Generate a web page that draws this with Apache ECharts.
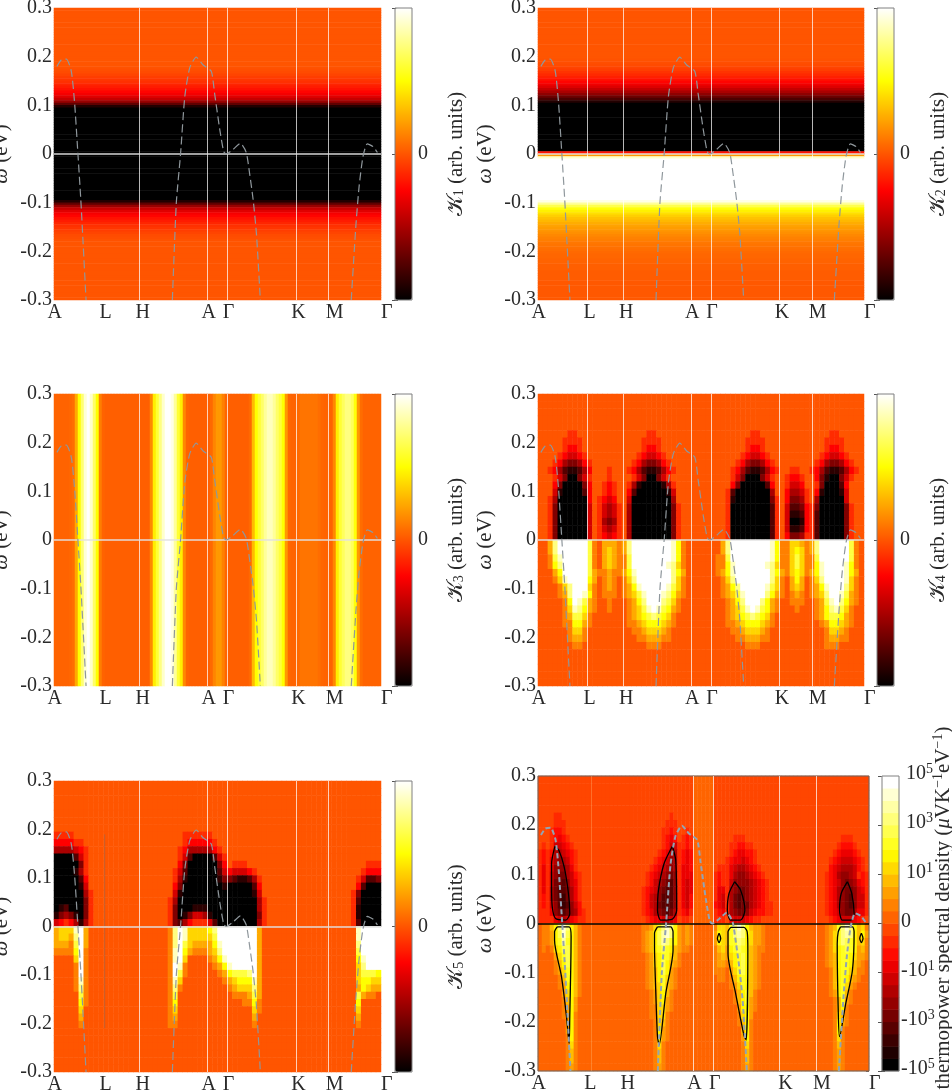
<!DOCTYPE html>
<html><head><meta charset="utf-8">
<style>html,body{margin:0;padding:0;background:#fff;overflow:hidden}#c{width:952px;height:1090px}</style>
<script src="https://cdn.jsdelivr.net/npm/echarts@6/dist/echarts.min.js"></script>
</head><body><div id="c"></div>
<script>
const yTicks=[-0.3,-0.2,-0.1,0,0.1,0.2,0.3];
const xLabelPos=[0.002,0.158,0.271,0.473,0.534,0.748,0.858,1];
const xLabelText=['A','L','H','A','Γ','K','M','Γ'];
const bandA=[[.009,.18],[.022,.193],[.038,.195],[.053,.17],[.063,.105],[.073,.002],[.082,-.094],[.089,-.183],[.098,-.3]];
const bandB=[[.362,-.3],[.374,-.101],[.387,0],[.400,.118],[.415,.177],[.435,.199],[.456,.183],[.481,.170],[.491,.125],[.507,.05],[.519,.005],[.527,0],[.547,.009],[.570,.022],[.588,.003],[.598,-.039],[.609,-.094],[.619,-.163],[.631,-.3]];
const bandC=[[.909,-.3],[.923,-.149],[.933,-.067],[.945,-.005],[.958,.021],[.976,.015],[.989,.003]];
const k1Rows=[0,0,0,0,0,0,0,0,0,0,0,0,0,0,0,0,0,0,0,0,0,0,0,0,-.01,-.02,-.03,-.05,-.07,-.09,-.11,-.14,-.17,-.2,-.24,-.28,-.34,-.42,-.55,-.72,-.9,
-1,-1,-1,-1,-1,-1,-1,-1,-1,-1,-1,-1,-1,-1,-1,-1,-1,-1,-1,-1,-1,-1,-1,-1,-1,-1,-1,-1,-1,-1,-1,-1,-1,-1,-1,-1,-1,-1,
-.9,-.72,-.55,-.42,-.34,-.28,-.24,-.2,-.17,-.14,-.11,-.09,-.07,-.05,-.03,-.02,-.01,0,0,0,0,0,0,0,0,0,0,0,0,0,0,0,0,0,0,0,0,0,0,0,0];
const k2Rows=[0,0,0,0,0,0,0,0,0,0,0,0,0,0,0,0,0,0,0,0,0,-.01,-.02,-.03,-.05,-.07,-.1,-.13,-.16,-.2,-.24,-.29,-.35,-.42,-.5,-.58,-.68,-.78,-.9,
-1,-1,-1,-1,-1,-1,-1,-1,-1,-1,-1,-1,-1,-1,-1,-1,-1,-1,-1,-1,-.2,.2,.9,
1,1,1,1,1,1,1,1,1,1,1,1,1,1,1,1,1,.95,.8,.65,.52,.46,.41,.36,.32,.29,.26,.23,.21,.19,.17,.15,.13,.12,.1,.09,.08,.07,.06,
.05,.05,.04,.04,.03,.03,.03,.02,.02,.02,.02,.01,.01,.01,.01,.01,.01,.01,.01];
const k3Cols=[.04,.04,.04,.04,.04,.05,.07,.25,.5,.72,.92,1,.9,.7,.5,.12,.04,.03,.03,.03,.03,.03,.03,.03,.03,.03,.03,.03,.03,.03,.03,.03,.15,.45,.6,.75,.9,1,1,.95,.8,.6,.45,.15,.04,.03,.03,.03,.03,.03,.03,.03,.06,.14,.2,.2,.13,.05,.03,.03,.03,.03,.03,.03,.03,.06,.3,.5,.6,.7,.8,.87,.87,.8,.7,.62,.5,.2,.05,.04,.04,.06,.09,.09,.09,.09,.09,.09,.07,.05,.04,.04,.04,.15,.45,.6,.68,.75,.75,.68,.52,.2,.07,.04,.04,.04,.04,.04,.04];
const k4Rows=[
"8888888888 8888888888 8888888888 8888888888 8888888888 8888888888 888888",
"8888888888 8888888888 8888888888 8888888888 8888888888 8888888888 888888",
"8888888888 8888888888 8888888888 8888888888 8888888888 8888888888 888888",
"8888888888 8888888888 8888888888 8888888888 8888888888 8888888888 888888",
"8888888888 8888888888 8888888888 8888888888 8888888888 8888888888 888888",
"8888887788 8888888888 8877888888 8888888888 8887788888 8888888887 788888",
"8888877778 8888888888 8777788888 8888888888 8877778888 8888888877 778888",
"8888876678 8888888888 8766788888 8888888888 8876678888 8888888876 678888",
"8888765567 8888888888 7655678888 8888888888 8765567888 8888888765 567888",
"8887643346 7888888887 6433467888 8888888888 7643346788 8888887643 346788",
"8876421124 6888788876 4211246788 8888888887 6421124678 8778876421 124678",
"8887530035 7888788887 5300357888 8888888887 5300035788 7667886310 035788",
"8886300003 6887678874 1000014788 8888888886 3000002688 7556887300 026888",
"8885100002 6887678862 0000001588 8888888872 0000000488 6445786100 015888",
"8874000000 6876568850 0000000488 8888888871 0000000378 6334784000 005888",
"8873000000 5875457840 0000000378 8888888870 0000000278 5223673000 003788",
"8873000000 5875457840 0000000378 8888888870 0000000278 5112672000 003788",
"8873000000 5874347840 0000000378 8888888870 0000000278 5001672000 003788",
"8873000000 5875457840 0000000378 8888888870 0000000278 5112672000 003788",
"8873000000 5876567840 0000000378 8888888870 0000000278 6334772000 003788",
"88aegggggg d98aaa9aeg gggggggfc9 8888888aeg gggggggfc9 9bba9aeggg gggd98",
"88aegggggg d98aba9aeg gggggggfc9 8888888aeg gggggggfc9 9bcb9aeggg gggd98",
"889dfggggg d98aba99dg gggggggfc9 88888899dg gggggggfc9 9bdb99dggg gggd98",
"889ceggggg d98aba99dg ggggggfeb9 88888899cf ggggggfeb9 9bdb99cfgg ggfc98",
"888acggggg da99a99acf gggggggeca 8888889acf gggggggeca 9bcb9acfgg ggfca8",
"8889bfgggg ca89a989be gggggggeb9 88888889be gggggggeb9 8aca89begg ggfb98",
"88889beggg b989a989ac fgggggfdb9 88888889ac egggggfdb9 8aba89acfg ggeb98",
"88889aeggf c9899989ab dfgggfeca9 88888889ab dfggggeca9 89a989abeg gfda98",
"888889cgfd a98898889a cegggedb98 888888889a cegggeca98 8999889adf geca98",
"888889bfec a98898889a bdfgfdca98 888888889a bdfgfdca98 8898889ace fdb988",
"888889addb 988888889a bcdedcb988 888888889a bcdedcb988 8888889acd dca988",
"8888899cca 9888888899 abcccba988 8888888899 abcccba988 88888889ac cba988",
"8888889bb9 8888888889 9abbba9888 8888888889 9abbba9888 888888889b ba9888",
"8888889aa9 8888888888 99aaa99888 8888888888 99aaa99888 888888889a a99888",
"8888888998 8888888888 8899988888 8888888888 8899988888 8888888899 988888",
"8888888888 8888888888 8888888888 8888888888 8888888888 8888888888 888888",
"8888888888 8888888888 8888888888 8888888888 8888888888 8888888888 888888",
"8888888888 8888888888 8888888888 8888888888 8888888888 8888888888 888888",
"8888888888 8888888888 8888888888 8888888888 8888888888 8888888888 888888",
"8888888888 8888888888 8888888888 8888888888 8888888888 8888888888 888888"];
const k5Rows=[
"8888888888 8888888888 8888888888 8888888888 8888888888 8888888888 888888",
"8888888888 8888888888 8888888888 8888888888 8888888888 8888888888 888888",
"8888888888 8888888888 8888888888 8888888888 8888888888 8888888888 888888",
"8888888888 8888888888 8888888888 8888888888 8888888888 8888888888 888888",
"8888888888 8888888888 8888888888 8888888888 8888888888 8888888888 888888",
"8888888888 8888888888 8888888888 8888888888 8888888888 8888888888 888888",
"8888888888 8888888888 8888888888 8888888888 8888888888 8888888888 888888",
"7777888888 8888888888 8888887777 7788888888 8888888888 8888888888 888888",
"6666778888 8888888888 8888887666 6678888888 8888888888 8888888888 888888",
"4444567888 8888888888 8888876444 4467888888 8888888888 8888888888 888888",
"0000257888 8888888888 8888875200 0025788888 8888888888 8888888888 888888",
"0000037888 8888888888 8888863000 0003687778 8888888888 8888888888 888777",
"0000147888 8888888888 8888752000 0002565556 7888888888 8888888888 887666",
"0000026888 8888888888 8888741000 0001332112 4788888888 8888888888 875223",
"0000015888 8888888888 8888630000 0000100000 2688888888 8888888888 862000",
"0000004788 8888888888 8888510000 0000000000 1588888888 8888888888 730000",
"0000003788 8888888888 8887400000 0000000000 0478888888 8888888888 720000",
"0120003788 8888888888 8887300011 1000000000 0478888888 8888888888 710000",
"1343103788 8888888888 8887301355 4100000000 0378888888 8888888888 710000",
"5676414788 8888888888 8887324677 7520000000 0478888888 8888888888 720000",
"abbbfga888 8888888888 8889egfbbb bceggggggg ga88888888 8888888888 8fgggg",
"abbaega888 8888888888 8889egfbbb bbdggggggg ga88888888 8888888888 8fgggg",
"aaa9dga888 8888888888 8889egdbaa aacfgggggg ga88888888 8888888888 8egggg",
"9999cg9888 8888888888 8889fgca99 9abegggggg ga88888888 8888888888 8dgggg",
"8888bg9888 8888888888 8889fgb888 89acfggggg ga88888888 8888888888 8cfggg",
"88889g9888 8888888888 8889gf9888 889acfgggg ga88888888 8888888888 8beggg",
"88889g9888 8888888888 8889gd9888 8889acddde ga88888888 8888888888 8bdddc",
"88889f9888 8888888888 8889fb8888 88889abccc fa88888888 8888888888 8bccbb",
"88889e9888 8888888888 8889e98888 888889abbb ea88888888 8888888888 8acbaa",
"88888d9888 8888888888 8889d88888 888888999a da88888888 8888888888 8da998",
"88888c9888 8888888888 8889c88888 8888888899 c988888888 8888888888 8c8888",
"88888b8888 8888888888 8889b88888 8888888888 b988888888 8888888888 8b8888",
"88888a8888 8888888888 8889a88888 8888888888 a888888888 8888888888 8a8888",
"8888898888 8888888888 8889988888 8888888888 9888888888 8888888888 898888",
"8888888888 8888888888 8888888888 8888888888 8888888888 8888888888 888888",
"8888888888 8888888888 8888888888 8888888888 8888888888 8888888888 888888",
"8888888888 8888888888 8888888888 8888888888 8888888888 8888888888 888888",
"8888888888 8888888888 8888888888 8888888888 8888888888 8888888888 888888",
"8888888888 8888888888 8888888888 8888888888 8888888888 8888888888 888888",
"8888888888 8888888888 8888888888 8888888888 8888888888 8888888888 888888"];
const k6Rows=[
"bbbbbbbbbb bbbbbbbbbb bbbbbbbbbb bbbbbbbbbc ccccbbbbbb bbbbbbbbbb bbbbbbbbbb bbbbbbbbbb bbb",
"bbbbbbbbbb bbbbbbbbbb bbbbbbbbbb bbbbbbbbbc ccccbbbbbb bbbbbbbbbb bbbbbbbbbb bbbbbbbbbb bbb",
"bbbbbbbbbb bbbbbbbbbb bbbbbbbbbb bbbbbbbbbc ccccbbbbbb bbbbbbbbbb bbbbbbbbbb bbbbbbbbbb bbb",
"bbbbbbbbbb bbbbbbbbbb bbbbbbbbbb bbbbbbbbbc ccccbbbbbb bbbbbbbbbb bbbbbbbbbb bbbbbbbbbb bbb",
"bbbbbbbbbb bbbbbbbbbb bbbbbbbbbb bbbbbbbbbc ccccbbbbbb bbbbbbbbbb bbbbbbbbbb bbbbbbbbbb bbb",
"bbbbaabbbb bbbbbbbbbb bbbbbbbbbb bbbabbbbbc ccccbbbbbb bbbbbbbbbb bbbbbbbbbb bbbbbbbbbb bbb",
"bbbbaaabbb bbbbbbbbbb bbbbbbbbbb bbaaabbbbc ccccbbbbbb bbbbbbbbbb bbbbbbbbbb bbbbbbbbbb bbb",
"bbba99abbb bbbbbbbbbb bbbbbbbbbb baa9abbabc ccccbbbbbb bbbbbbbbbb bbbbbbbbbb bbbbbbbbbb bbb",
"bbba989abb bbbbbbbbbb bbbbbbbbbb ba989ba9ac ccccbbbbba aabbbbbbbb bbbbbbbbbb bbbbbbaaab bbb",
"baba7789ab bbbbbbbbbb bbbbbbbbbb ba977aa9ac ccccbbbbaa 99aabbbbbb bbbbbbbbbb bbbbba999a bbb",
"a9a966789a bbbbbbbbbb bbbbbbbbbb a9866a989c ccccbbbba9 8899abbbbb bbbbbbbbbb bbbba98889 abb",
"a9a865679a bbbbbbbbbb bbbbbbbbba 98756a989c ccccbbba98 8789abbbbb bbbbbbbbbb bbba987778 9ab",
"a8a855568a bbbbbbbbbb bbbbbbbba9 87656a889c ccccbaaa87 66789abbbb bbbbbbbbbb bbb9876667 9ab",
"a8a7544679 abbbbbbbbb bbbbbbba98 76545a888c cccca9aa86 556789abbb bbbbbbbbbb bba9865567 a9a",
"a8a7443578 abbbbbbbbb bbbbbbba97 65435a878c cccca9aa75 5556789abb bbbbbbbbbb bba9875456 89a",
"a8a6433468 abbbbbbbbb bbbbbba987 54335a878c cccca88a65 4456789abb bbbbbbbbbb bba9865445 78a",
"a9a6432468 abbbbbbbbb bbbbbba976 53335a879c cccca87a64 3456789abb bbbbbbbbbb bba9865435 77a",
"a9a7532357 9bbbbbbbbb bbbbbba976 43335a879c cccc987a64 3446789aab bbbbbbbbbb bba9865435 77a",
"aaa8543456 9abbbbbbbb bbbbbba986 54346a98ac cccca98a65 4457899aab bbbbbbbbbb bba9875446 88a",
"aaaa876789 aabbbbbbbb bbbbbbba98 87678baabc ccccaaab87 7789aabbbb bbbbbbbbbb bbba987778 9ab",
"cddfhkmkhf dccccccccc ccccccddeg ikmkhededc ccccdggfik mkhfeedccc cccccccccc ccdefikmkh fgd",
"cddehjmjhf dccccccccc ccccccdefh jlmkhededc ccccehgfik lkhgeedccc cccccccccc ccdegiklkh fhe",
"cddehilihf dccccccccc ccccccdefh jlkihededc ccccehgfii kjhgeedccc cccccccccc ccdegikjih fgd",
"cdcdghjjhf dccccccccc ccccccdefh ijihfeddcc ccccdfgehi jihfeddccc cccccccccc ccdeghijih efd",
"ccccegijhf dccccccccc cccccccdeg hiigfdcccc ccccdefegh ijhfedcccc cccccccccc ccdefhiihg eed",
"ccccdfhjhf dccccccccc cccccccdeg hjhfedcccc ccccdeedfh ijhfedcccc cccccccccc ccdefhiihf edc",
"ccccdegihf dccccccccc cccccccdef hjhedccccc ccccdddceg ijhfedcccc cccccccccc cccdfhiigf ddc",
"cccccdfihf dccccccccc cccccccdef higedccccc cccccddcdf hihfedcccc cccccccccc cccdfhihfe dcc",
"cccccdehhf dccccccccc cccccccdef gifedccccc ccccccccde gihfedcccc cccccccccc cccdfhiged ccc",
"cccccceghf dccccccccc ccccccccde ghfdcccccc cccccccccd fhifdccccc cccccccccc cccdehifdc ccc",
"ccccccdfhe cccccccccc ccccccccde ghedcccccc cccccccccd fhiedccccc cccccccccc ccccdfiedc ccc",
"ccccccdehe cccccccccc ccccccccdd ggedcccccc cccccccccc ehhedccccc cccccccccc ccccdfhdcc ccc",
"ccccccdehd cccccccccc ccccccccdd ggdccccccc cccccccccc dghecccccc cccccccccc ccccdgfdcc ccc",
"cccccccehd cccccccccc cccccccccd gfdccccccc cccccccccc dfhdcccccc cccccccccc ccccdhedcc ccc",
"cccccccehd cccccccccc cccccccccd hedccccccc cccccccccc cfhdcccccc cccccccccc ccccdhdccc ccc",
"cccccccdhd cccccccccc cccccccccd hedccccccc cccccccccc cehdcccccc cccccccccc ccccdgdccc ccc",
"cccccccdgd cccccccccc cccccccccd gdcccccccc cccccccccc cdgdcccccc cccccccccc ccccdfdccc ccc",
"cccccccdfd cccccccccc cccccccccd fdcccccccc cccccccccc cdfdcccccc cccccccccc ccccdedccc ccc",
"cccccccdfd cccccccccc cccccccccd fdcccccccc cccccccccc cdfdcccccc cccccccccc ccccdedccc ccc",
"cccccccded cccccccccc cccccccccd edcccccccc cccccccccc cdedcccccc cccccccccc ccccdedccc ccc"];
const k6Palette=['#000000','#1e0000','#3b0000','#590000','#760000','#940000','#b10000','#cf0000','#ec0000','#ff0b00','#ff2900','#ff4600','#ff6400','#ff8100','#ff9f00','#ffbc00','#ffda00','#fff700','#ffff22','#ffff4e','#ffff7a','#ffffa6','#ffffd3','#ffffff'];
const hotStops=['#000000','#550000','#aa0000','#ff0000','#ff5500','#ffaa00','#ffff00','#ffff80','#ffffff'];
const contours=[
[[.051,.157],[.041,.122],[.041,.081],[.043,.034],[.053,.010],[.084,.007],[.096,.020],[.092,.061],[.079,.115],[.063,.149],[.051,.157]],
[[.058,-.007],[.094,-.007],[.100,-.027],[.099,-.088],[.096,-.189],[.094,-.244],[.086,-.189],[.071,-.108],[.050,-.034],[.050,-.017],[.058,-.007]],
[[.406,.157],[.416,.129],[.419,.027],[.406,.009],[.371,.007],[.361,.027],[.364,.068],[.381,.122],[.406,.157]],
[[.361,-.007],[.401,-.007],[.408,-.017],[.408,-.054],[.386,-.142],[.366,-.247],[.361,-.230],[.355,-.122],[.352,-.047],[.352,-.020],[.361,-.007]],
[[.594,.085],[.612,.068],[.625,.027],[.612,.007],[.582,.007],[.572,.027],[.577,.061],[.594,.085]],
[[.582,-.008],[.622,-.008],[.632,-.017],[.634,-.054],[.629,-.237],[.622,-.227],[.597,-.142],[.574,-.061],[.574,-.017],[.582,-.008]],
[[.547,-.020],[.552,-.030],[.547,-.039],[.542,-.030],[.547,-.020]],
[[.935,.085],[.948,.061],[.955,.020],[.945,.007],[.919,.007],[.911,.027],[.916,.061],[.935,.085]],
[[.914,-.007],[.950,-.007],[.955,-.017],[.950,-.095],[.930,-.162],[.911,-.230],[.907,-.176],[.904,-.041],[.907,-.017],[.914,-.007]],
[[.977,-.020],[.982,-.030],[.977,-.039],[.972,-.030],[.977,-.020]]];
const faintLineL=[[.155,.19],[.155,-.21]];
const cbarTicks6=[-3,-2,-1,0,1,2,3];
const cbarLabels6=['-10^5','-10^3','-10^1','0','10^1','10^3','10^5'];

const FONT='"Liberation Serif","DejaVu Serif",serif';
const TXT='#2a2a2a';
const decode=(rows)=>rows.map(r=>r.replace(/ /g,'').split('').map(c=>parseInt(c,36)));
const idx=(n)=>Array.from({length:n},(_,i)=>i);
function cells2d(rows,f){const m=decode(rows),out=[];m.forEach((row,r)=>row.forEach((v,c)=>out.push([c,r,f(v)])));return {data:out,nx:m[0].length,ny:m.length};}
const heats=[
 {data:k1Rows.map((v,r)=>[0,r,v]),nx:1,ny:k1Rows.length},
 {data:k2Rows.map((v,r)=>[0,r,v]),nx:1,ny:k2Rows.length},
 {data:k3Cols.map((v,c)=>[c,0,v]),nx:k3Cols.length,ny:1},
 cells2d(k4Rows,v=>(v-8)/8),
 cells2d(k5Rows,v=>(v-8)/8),
 cells2d(k6Rows,v=>v)];
const panels=[
 {l:54,t:8,w:327,h:292,cx:395,ct:8,ch:292,lines:[.263,.474,.526,.737,.84]},
 {l:538,t:8,w:326,h:292,cx:877,ct:8,ch:292,lines:[.155,.263,.474,.526,.737,.84]},
 {l:54,t:394,w:327,h:292,cx:395,ct:394,ch:292,lines:[.263,.474,.526,.737,.84]},
 {l:538,t:394,w:326,h:292,cx:877,ct:394,ch:292,lines:[.155,.263,.474,.526,.737,.84]},
 {l:54,t:781,w:327,h:291,cx:395,ct:781,ch:291,lines:[.263,.474,.526,.737,.84]},
 {l:538,t:776,w:331,h:295,cx:882,ct:776,ch:295,lines:[.471,.526,.734,.84]}];
const grid=[],xAxis=[],yAxis=[],series=[],visualMap=[];
const richY={i:{fontStyle:'italic',fontFamily:FONT,fontSize:22,color:TXT},n:{fontFamily:FONT,fontSize:21,color:TXT}};
panels.forEach((p,i)=>{
 const is6=i===5;
 let g=grid.length; grid.push({left:p.l,top:p.t,width:p.w,height:p.h,show:false,outerBoundsMode:'none'});
 let xi=xAxis.length; xAxis.push({gridIndex:g,type:'category',data:idx(heats[i].nx),show:false,boundaryGap:true});
 let yi=yAxis.length; yAxis.push({gridIndex:g,type:'category',data:idx(heats[i].ny),show:false,inverse:true,boundaryGap:true});
 const heatIndexes=[series.length];
 series.push({type:'heatmap',xAxisIndex:xi,yAxisIndex:yi,data:heats[i].data,progressive:0,animation:false,silent:true,z:2});
 g=grid.length; grid.push({left:p.l,top:p.t,width:p.w,height:p.h,show:is6,borderColor:'#666',borderWidth:1,backgroundColor:'transparent',z:3,outerBoundsMode:'none'});
 xi=xAxis.length;
 xAxis.push({gridIndex:g,type:'value',min:0,max:1,axisLine:{show:false},axisTick:{show:false},splitLine:{show:false},
  axisLabel:{customValues:xLabelPos,formatter:v=>xLabelText[xLabelPos.indexOf(v)]||'',fontFamily:FONT,fontSize:20,color:TXT,margin:3,hideOverlap:false,alignMaxLabel:'left'}});
 yi=yAxis.length;
 yAxis.push({gridIndex:g,type:'value',min:-0.3,max:0.3,axisLine:{show:false},axisTick:{show:false},splitLine:{show:false},
  axisLabel:{customValues:yTicks,formatter:v=>Math.abs(v)<0.05?'0':v.toFixed(1),fontFamily:FONT,fontSize:20,color:TXT,margin:2,padding:[0,0,4,0]},
  name:'{i|ω} {n|(eV)}',nameLocation:'middle',nameGap:42,nameRotate:90,nameMoveOverlap:false,nameTextStyle:{rich:richY,fontFamily:FONT,fontSize:21,color:TXT}});
 if(is6){
  yAxis.push({gridIndex:g,type:'value',position:'right',min:-0.3,max:0.3,axisLine:{show:false},axisTick:{show:true,inside:true,length:3,lineStyle:{color:'#666'},customValues:yTicks},axisLabel:{show:false},splitLine:{show:false}});
 }
 const bandStyle=is6?{color:'#93a3b3',width:2,type:[5,3]}:{color:'#8f979c',width:1.2,type:[8,4]};
 const mark={silent:true,symbol:'none',label:{show:false},animation:false,
  lineStyle:{color:'rgba(255,255,255,0.72)',width:1,type:'solid'},
  data:p.lines.map(v=>({xAxis:v})).concat(i===5?[{xAxis:.156,lineStyle:{color:'rgba(255,190,120,0.35)',width:1,type:'solid'}}]:[]).concat([{yAxis:0,lineStyle:{color:is6?'#000':'rgba(225,225,225,0.95)',width:is6?1.6:1.5,type:'solid'}}])};
 if(i===4) series.push({type:'line',xAxisIndex:xi,yAxisIndex:yi,data:faintLineL,symbol:'none',silent:true,z:3,animation:false,lineStyle:{color:'rgba(120,110,110,0.45)',width:1}});
 if(is6) contours.forEach(c=>series.push({type:'line',xAxisIndex:xi,yAxisIndex:yi,data:c,symbol:'none',silent:true,z:4,animation:false,smooth:0.25,lineStyle:{color:'#000',width:1.3}}));
 [bandA,bandB,bandC].forEach((b,k)=>series.push({type:'line',xAxisIndex:xi,yAxisIndex:yi,data:b,symbol:'none',silent:true,z:5,animation:false,smooth:0.2,lineStyle:bandStyle,markLine:k===0?mark:undefined}));
 if(is6){
  g=grid.length; grid.push({left:p.cx,top:p.ct,width:17,height:p.ch,show:false,outerBoundsMode:'none'});
  xi=xAxis.length; xAxis.push({gridIndex:g,type:'category',data:[0],show:false});
  yi=yAxis.length; yAxis.push({gridIndex:g,type:'category',data:idx(24),show:false});
  heatIndexes.push(series.length);
  series.push({type:'heatmap',xAxisIndex:xi,yAxisIndex:yi,data:idx(24).map(b=>[0,b,b]),progressive:0,animation:false,silent:true,z:2});
  visualMap.push({type:'continuous',min:0,max:23,seriesIndex:heatIndexes,show:false,inRange:{color:k6Palette}});
 } else {
  visualMap.push({type:'continuous',min:-1,max:1,seriesIndex:heatIndexes,show:true,left:p.cx,top:p.ct,padding:0,itemWidth:17,itemHeight:p.ch,calculable:false,text:null,showLabel:false,inRange:{color:hotStops},hoverLink:false});
 }
 g=grid.length; grid.push({left:p.cx,top:p.ct,width:17,height:p.ch,show:true,borderColor:'#808080',borderWidth:1,backgroundColor:'transparent',z:6,outerBoundsMode:'none'});
 xAxis.push({gridIndex:g,type:'value',min:0,max:1,show:false});
 if(is6){
  const sup={fontFamily:FONT,fontSize:14,color:TXT,padding:[0,0,9,0]};
  yAxis.push({gridIndex:g,type:'value',position:'right',min:-3,max:3,interval:1,axisLine:{show:false},splitLine:{show:false},
   axisTick:{show:true,inside:true,length:4,lineStyle:{color:'#555'}},
   axisLabel:{margin:2,fontFamily:FONT,fontSize:20,color:TXT,padding:[0,0,4,0],formatter:v=>{const s=cbarLabels6[cbarTicks6.indexOf(v)];if(s==='0')return '{n|0}';const q=s.split('^');return (q[0][0]==='-'?'{n|':'{p|')+q[0]+'}{s|'+q[1]+'}';},
    rich:{n:{fontFamily:FONT,fontSize:20,color:TXT},p:{fontFamily:FONT,fontSize:20,color:TXT,padding:[0,0,0,5]},s:sup}}});
 } else {
  const sub={fontFamily:FONT,fontSize:14,color:TXT,padding:[7,0,0,0]};
  yAxis.push({gridIndex:g,type:'value',position:'right',min:-1,max:1,interval:1,axisLine:{show:false},splitLine:{show:false},
   axisTick:{show:true,inside:true,length:3,lineStyle:{color:'#555'}},
   axisLabel:{margin:6,fontFamily:FONT,fontSize:20,color:TXT,padding:[0,0,4,0],formatter:v=>v===0?'0':''},
   name:'{k|𝒦}{s|'+(i+1)+'} {n|(arb. units)}',nameLocation:'middle',nameGap:33,nameRotate:90,nameMoveOverlap:false,
   nameTextStyle:{fontFamily:FONT,fontSize:21,color:TXT,rich:{k:{fontFamily:FONT,fontSize:22,color:TXT},s:sub,n:{fontFamily:FONT,fontSize:21,color:TXT}}}});
 }
 yAxis.push({gridIndex:g,type:'value',position:'left',min:-1,max:1,interval:1,axisLine:{show:false},splitLine:{show:false},axisLabel:{show:false},axisTick:{show:true,inside:true,length:3,lineStyle:{color:'#555'}}});
});
const chart=echarts.init(document.getElementById('c'),null,{renderer:'canvas'});
chart.setOption({animation:false,backgroundColor:'#fff',grid,xAxis,yAxis,series,visualMap,
 graphic:[{type:'text',x:943,y:908,rotation:Math.PI/2,z:20,silent:true,style:{text:'thermopower spectral density ({i|μ}VK{s|−1}eV{s|−1})',align:'center',verticalAlign:'middle',font:'21px '+FONT,fill:TXT,
  rich:{i:{fontStyle:'italic',fontFamily:FONT,fontSize:21,fill:TXT,color:TXT},s:{fontFamily:FONT,fontSize:14,color:TXT,padding:[0,0,9,0]}}}}]});
</script></body></html>
